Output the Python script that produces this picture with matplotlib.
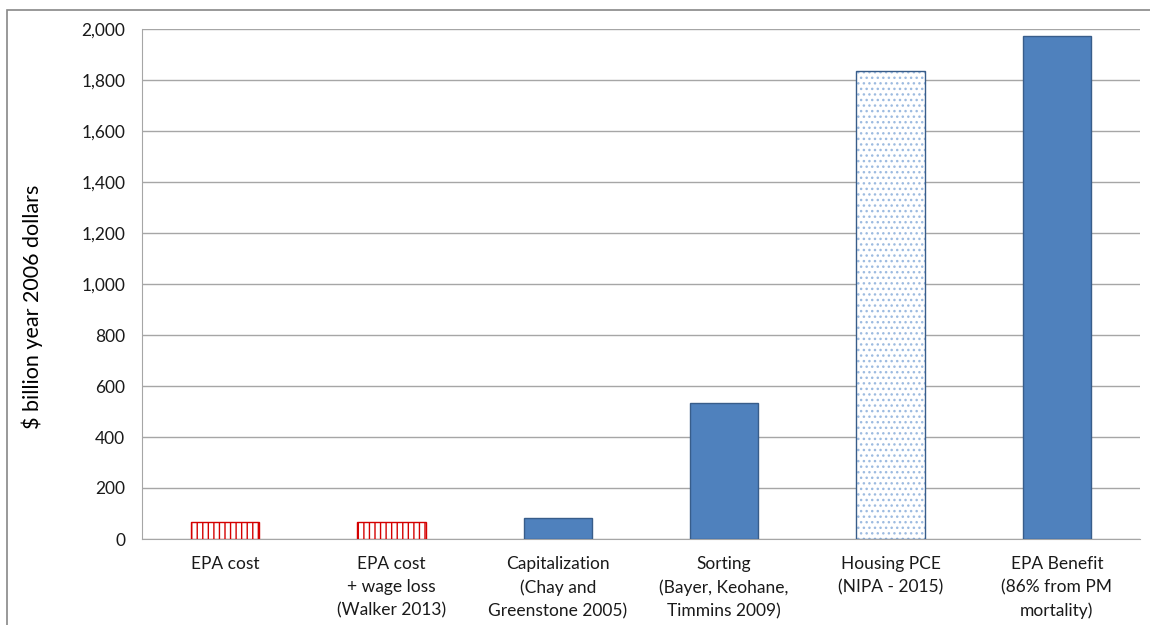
import matplotlib
matplotlib.use("Agg")
import matplotlib.pyplot as plt
from matplotlib.patches import Rectangle
from matplotlib.ticker import FuncFormatter

plt.rcParams["font.family"] = ["Lato", "DejaVu Sans"]
plt.rcParams["hatch.linewidth"] = 1.0

categories = ["EPA cost", "EPA cost\n+ wage loss\n(Walker 2013)",
              "Capitalization\n(Chay and\nGreenstone 2005)",
              "Sorting\n(Bayer, Keohane,\nTimmins 2009)",
              "Housing PCE\n(NIPA - 2015)",
              "EPA Benefit\n(86% from PM\nmortality)"]
values = [65, 65, 82, 533, 1835, 1973]
styles = ["red_hatch", "red_hatch", "solid", "solid", "dots", "solid"]

BLUE = "#4f81bd"; BLUE_EDGE = "#385d8a"; RED = "#d40000"; GRID = "#a6a6a6"; INK = "#1a1a1a"

fig = plt.figure(figsize=(11.5, 6.25), dpi=100)
ax = fig.add_axes([142/1150, 1 - 539/625, (1140 - 142)/1150, (539 - 29)/625])

x = range(len(categories))
w = 0.41
for i, (v, s) in enumerate(zip(values, styles)):
    if s == "solid":
        ax.bar(i, v, w, color=BLUE, edgecolor=BLUE_EDGE, linewidth=1, zorder=3)
    elif s == "red_hatch":
        ax.bar(i, v, w, color="white", edgecolor=RED, hatch="|||", linewidth=0, zorder=3)
        ax.bar(i, v, w, fill=False, edgecolor=RED, linewidth=1, zorder=4)
    else:
        ax.bar(i, v, w, color="white", edgecolor="#9dbbe0", hatch="...", linewidth=0, zorder=3)
        ax.bar(i, v, w, fill=False, edgecolor=BLUE_EDGE, linewidth=1, zorder=4)

ax.set_xlim(-0.5, len(categories) - 0.5)
ax.set_ylim(0, 2000)
ax.set_yticks(range(0, 2001, 200))
ax.yaxis.set_major_formatter(FuncFormatter(lambda v, p: f"{int(v):,}"))
ax.set_xticks(list(x))
ax.set_xticklabels(categories, fontsize=12.5, color=INK, linespacing=1.55)
ax.tick_params(axis="y", labelsize=12.5, colors=INK, length=0, pad=12)
ax.tick_params(axis="x", length=0, pad=12)
ax.grid(True, axis="y", color=GRID, linewidth=1, zorder=0)
for sp in ["top", "right"]:
    ax.spines[sp].set_visible(False)
ax.spines["left"].set_color(GRID)
ax.spines["bottom"].set_color(GRID)
ax.set_ylabel("$ billion year 2006 dollars", fontsize=15.5, color="black",
              va="center")
ax.yaxis.set_label_coords(-0.11, 0.455)

# outer chart border
fig.patches.append(Rectangle((7/1150, -0.1), 1.2, 1 - 10/625 + 0.1,
                             transform=fig.transFigure, fill=False,
                             edgecolor="#888888", linewidth=1.2))

fig.savefig("out.png", dpi=100, facecolor="white")
